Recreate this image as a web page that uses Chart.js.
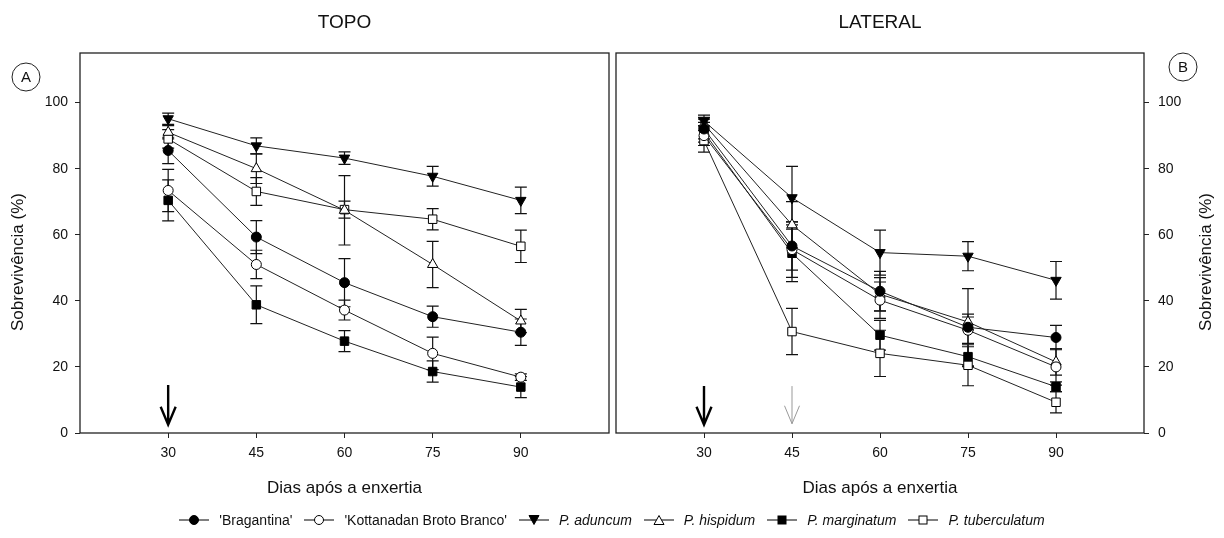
<!DOCTYPE html>
<html>
<head>
<meta charset="utf-8">
<script src="https://cdn.jsdelivr.net/npm/chart.js@4.4.1/dist/chart.umd.min.js"></script>
<style>
  html, body { margin: 0; padding: 0; background: #fff; }
  #wrap { position: relative; width: 1224px; height: 538px; overflow: hidden; font-family: 'Liberation Sans', Arial, sans-serif; }
  #topo { position: absolute; left: 0; top: 0; }
  #lateral { position: absolute; left: 609px; top: 0; }
  #legend { position: absolute; left: 0; top: 512px; width: 1224px; text-align: center; font-size: 14px; color: #111; white-space: nowrap; }
  .item { display: inline-flex; align-items: center; margin: 0 6px; }
  .item svg { margin-right: 10px; }
  .item i { font-style: italic; }
</style>
</head>
<body>
<div id="wrap">
  <canvas id="topo" width="616" height="538"></canvas>
  <canvas id="lateral" width="615" height="538"></canvas>
  <div id="legend"></div>
</div>
<script>
// ---------- data ----------
const days = [30, 45, 60, 75, 90];
const xTicks = [30, 45, 60, 75, 90];
const yTicks = [0, 20, 40, 60, 80, 100];
const seriesNames = ["'Bragantina'", "'Kottanadan Broto Branco'", 'P. aduncum', 'P. hispidum', 'P. marginatum', 'P. tuberculatum'];

// TOPO (A)
const bragTopo = [85.5, 59.3, 45.5, 35.2, 30.5];
const kottTopo = [73.4, 51.0, 37.2, 24.1, 16.9];
const adunTopo = [95.1, 86.9, 83.2, 77.7, 70.4];
const hispTopo = [91.0, 80.0, 67.4, 51.0, 33.9];
const margTopo = [70.4, 38.8, 27.8, 18.6, 13.9];
const tubeTopo = [89.0, 73.1, 67.6, 64.7, 56.5];
const bragTopoErr = [4.0, 5.0, 7.3, 3.2, 4.0];
const kottTopoErr = [6.4, 4.3, 3.0, 4.9, 1.0];
const adunTopoErr = [1.7, 2.4, 1.9, 3.0, 4.0];
const hispTopoErr = [2.0, 4.5, 10.5, 7.0, 3.5];
const margTopoErr = [6.2, 5.7, 3.2, 3.2, 3.2];
const tubeTopoErr = [2.8, 4.2, 2.6, 3.2, 4.9];

// LATERAL (B)
const bragLat = [92.0, 56.6, 42.9, 32.0, 28.9];
const kottLat = [90.0, 55.5, 40.2, 31.1, 20.0];
const adunLat = [94.4, 71.2, 54.6, 53.5, 46.2];
const hispLat = [93.5, 63.0, 42.0, 33.6, 21.5];
const margLat = [91.0, 54.4, 29.6, 23.1, 14.0];
const tubeLat = [88.5, 30.7, 24.1, 20.5, 9.3];
const bragLatErr = [3.0, 7.3, 6.0, 11.7, 3.7];
const kottLatErr = [3.0, 8.4, 5.5, 4.0, 5.5];
const adunLatErr = [1.8, 9.5, 6.8, 4.4, 5.7];
const hispLatErr = [2.0, 7.0, 5.0, 2.4, 4.0];
const margLatErr = [3.0, 8.6, 4.5, 3.0, 1.5];
const tubeLatErr = [3.5, 7.0, 7.0, 6.2, 3.2];

// arrows (day, from value, to value)
const arrowsTopo = [{ day: 30, from: 14.5, to: 2.5, heavy: true }];
const arrowsLat = [{ day: 30, from: 14.2, to: 2.5, heavy: true }, { day: 45, from: 14.2, to: 2.8, heavy: false }];

const FONT = "'Liberation Sans', Arial, sans-serif";

// marker style per series
const styles = [
  { pointStyle: 'circle', radius: 5, fill: '#000', rotation: 0 },
  { pointStyle: 'circle', radius: 5, fill: '#fff', rotation: 0 },
  { pointStyle: 'triangle', radius: 6, fill: '#000', rotation: 180 },
  { pointStyle: 'triangle', radius: 6, fill: '#fff', rotation: 0 },
  { pointStyle: 'rect', radius: 6, fill: '#000', rotation: 0 },
  { pointStyle: 'rect', radius: 6, fill: '#fff', rotation: 0 }
];

function makeDatasets(values, errors) {
  return values.map((vals, i) => ({
    label: seriesNames[i],
    data: days.map((d, j) => ({ x: d, y: vals[j] })),
    errors: errors[i],
    borderColor: '#222',
    borderWidth: 1,
    tension: 0,
    fill: false,
    pointStyle: styles[i].pointStyle,
    pointRadius: styles[i].radius,
    pointRotation: styles[i].rotation,
    pointBackgroundColor: styles[i].fill,
    pointBorderColor: '#000',
    pointBorderWidth: 1
  }));
}

// ---------- plugin: frame, error bars, arrows, texts ----------
const decorPlugin = {
  id: 'decor',
  beforeDatasetsDraw(chart) {
    const { ctx, scales: { x, y } } = chart;
    ctx.save();
    ctx.strokeStyle = '#111';
    ctx.lineWidth = 1.2;
    chart.data.datasets.forEach((ds) => {
      ds.data.forEach((p, j) => {
        const e = ds.errors[j];
        const px = x.getPixelForValue(p.x);
        const yt = y.getPixelForValue(p.y + e);
        const yb = y.getPixelForValue(p.y - e);
        ctx.beginPath();
        ctx.moveTo(px, yt); ctx.lineTo(px, yb);
        ctx.moveTo(px - 6, yt); ctx.lineTo(px + 6, yt);
        ctx.moveTo(px - 6, yb); ctx.lineTo(px + 6, yb);
        ctx.stroke();
      });
    });
    ctx.restore();
  },
  afterDraw(chart, args, opts) {
    const { ctx, chartArea: a, scales: { x, y } } = chart;
    ctx.save();
    // frame
    ctx.strokeStyle = '#222';
    ctx.lineWidth = 1.3;
    ctx.strokeRect(a.left, a.top, a.right - a.left, a.bottom - a.top);

    // arrows
    opts.arrows.forEach((ar) => {
      const px = x.getPixelForValue(ar.day);
      const y0 = y.getPixelForValue(ar.from);
      const y1 = y.getPixelForValue(ar.to);
      ctx.strokeStyle = ar.heavy ? '#000' : '#999';
      ctx.lineWidth = ar.heavy ? 2.4 : 1;
      ctx.beginPath();
      ctx.moveTo(px, y0); ctx.lineTo(px, y1);
      ctx.moveTo(px - 7.5, y1 - 18); ctx.lineTo(px, y1); ctx.lineTo(px + 7.5, y1 - 18);
      ctx.stroke();
    });

    // panel title
    ctx.fillStyle = '#111';
    ctx.textAlign = 'center';
    ctx.textBaseline = 'middle';
    ctx.font = '19px ' + FONT;
    ctx.fillText(opts.title, (a.left + a.right) / 2, 23);

    // x axis title
    ctx.font = '17px ' + FONT;
    ctx.fillText('Dias após a enxertia', (a.left + a.right) / 2, 488);

    // y axis title
    ctx.save();
    ctx.translate(opts.yTitleX, 262);
    ctx.rotate(-Math.PI / 2);
    ctx.fillText('Sobrevivência (%)', 0, 0);
    ctx.restore();

    // panel letter
    ctx.strokeStyle = '#222';
    ctx.lineWidth = 1;
    ctx.beginPath();
    ctx.arc(opts.letterX, opts.letterY, 14, 0, Math.PI * 2);
    ctx.stroke();
    ctx.font = '15px ' + FONT;
    ctx.fillText(opts.letter, opts.letterX, opts.letterY + 1);
    ctx.restore();
  }
};

function makeChart(id, values, errors, side, decor) {
  const el = document.getElementById(id);
  return new Chart(el.getContext('2d'), {
    type: 'line',
    data: { datasets: makeDatasets(values, errors) },
    plugins: [decorPlugin],
    options: {
      responsive: false,
      animation: false,
      layout: { padding: { top: 53, right: 0, left: 0, bottom: 0 } },
      plugins: { legend: { display: false }, tooltip: { enabled: false }, decor },
      scales: {
        x: {
          type: 'linear',
          min: 15, max: 105,
          afterBuildTicks: (s) => { s.ticks = xTicks.map((v) => ({ value: v })); },
          afterFit: (s) => { s.height = 105; },
          grid: { drawOnChartArea: false, drawTicks: true, tickLength: 5, color: '#222', lineWidth: 1 },
          border: { display: false },
          ticks: { color: '#111', font: { family: FONT, size: 14 }, padding: 7, maxRotation: 0 }
        },
        y: {
          position: side,
          min: 0, max: 115,
          afterBuildTicks: (s) => { s.ticks = yTicks.map((v) => ({ value: v })); },
          afterFit: (s) => { s.width = 80; },
          grid: { drawOnChartArea: false, drawTicks: true, tickLength: 5, color: '#222', lineWidth: 1 },
          border: { display: false },
          ticks: { color: '#111', font: { family: FONT, size: 14 }, padding: side === 'left' ? 7 : 9 }
        }
      }
    }
  });
}

makeChart('topo',
  [bragTopo, kottTopo, adunTopo, hispTopo, margTopo, tubeTopo],
  [bragTopoErr, kottTopoErr, adunTopoErr, hispTopoErr, margTopoErr, tubeTopoErr],
  'left',
  { title: 'TOPO', arrows: arrowsTopo, yTitleX: 18, letter: 'A', letterX: 26, letterY: 77 });

makeChart('lateral',
  [bragLat, kottLat, adunLat, hispLat, margLat, tubeLat],
  [bragLatErr, kottLatErr, adunLatErr, hispLatErr, margLatErr, tubeLatErr],
  'right',
  { title: 'LATERAL', arrows: arrowsLat, yTitleX: 1206 - 609, letter: 'B', letterX: 1183 - 609, letterY: 67 });

// ---------- legend (html) ----------
function markerSvg(i) {
  const s = styles[i];
  const f = s.fill;
  let shape = '';
  if (s.pointStyle === 'circle') shape = `<circle cx="15" cy="7" r="4.5" fill="${f}" stroke="#000" stroke-width="1"/>`;
  else if (s.pointStyle === 'rect') shape = `<rect x="11" y="3" width="8" height="8" fill="${f}" stroke="#000" stroke-width="1"/>`;
  else if (s.rotation === 180) shape = `<polygon points="10,2.5 20,2.5 15,11.5" fill="${f}" stroke="#000" stroke-width="1"/>`;
  else shape = `<polygon points="10,11.5 20,11.5 15,2.5" fill="${f}" stroke="#000" stroke-width="1"/>`;
  return `<svg width="30" height="14"><line x1="0" y1="7" x2="30" y2="7" stroke="#000" stroke-width="1"/>${shape}</svg>`;
}
const legendEl = document.getElementById('legend');
legendEl.innerHTML = seriesNames.map((name, i) => {
  const text = name.startsWith('P.') ? `<i>${name}</i>` : name;
  return `<span class="item">${markerSvg(i)}${text}</span>`;
}).join('');
</script>
</body>
</html>
